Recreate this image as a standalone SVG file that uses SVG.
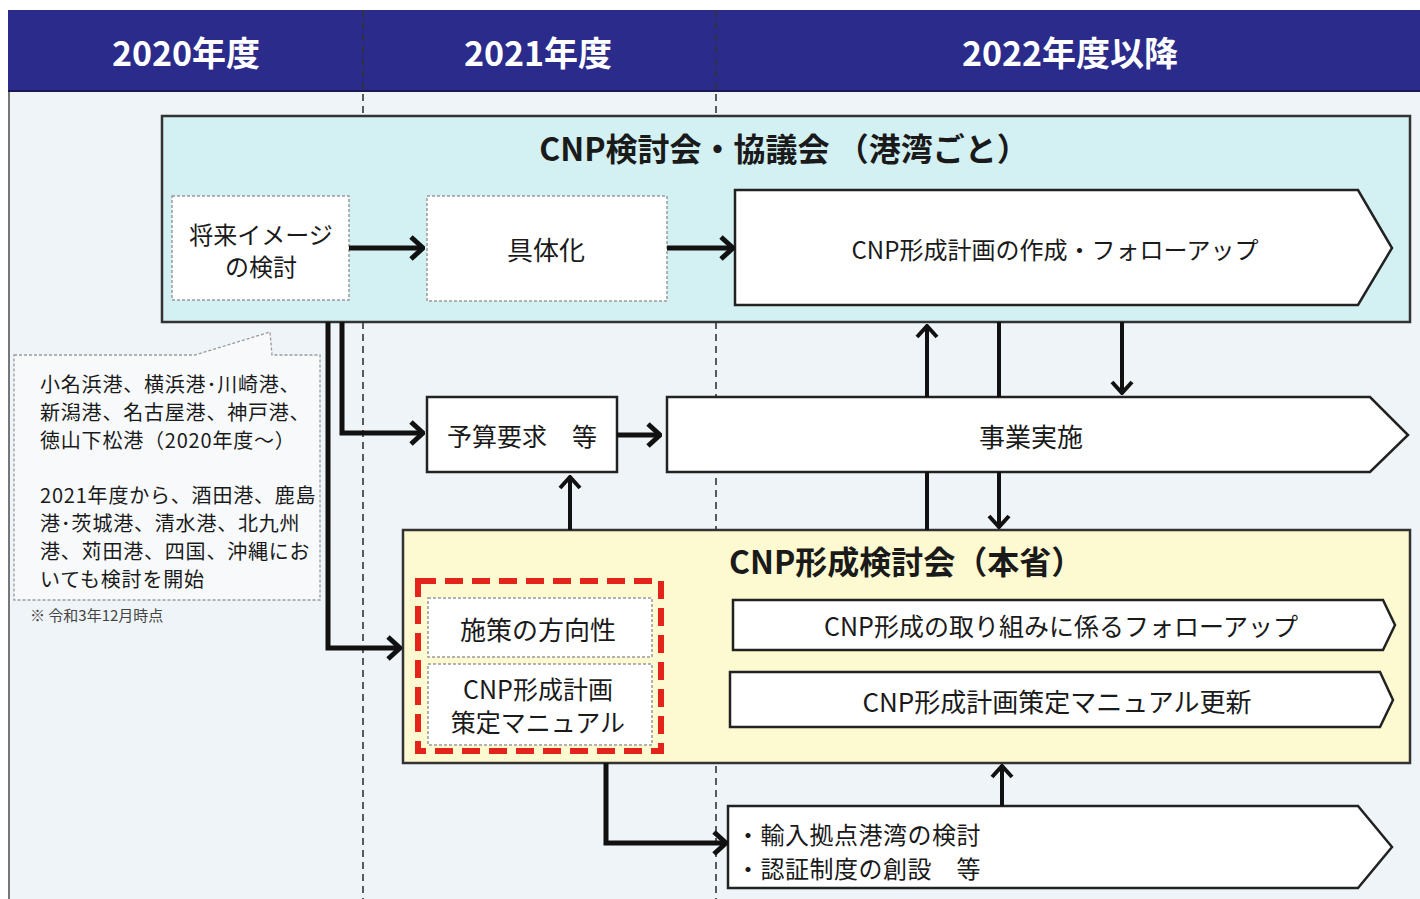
<svg xmlns="http://www.w3.org/2000/svg" width="1420" height="899" viewBox="0 0 1420 899">
<defs>
<style>
text{font-family:"Noto Sans CJK JP","Liberation Sans",sans-serif;fill:#1a1a1a;text-anchor:middle;dominant-baseline:central}
.hd{fill:#ffffff;font-weight:bold;font-size:34px}
.ttl{font-weight:bold;font-size:32px}
.t{font-size:25px}
.sm{font-size:20px;text-anchor:start;letter-spacing:0.8px}
.note{font-size:15px;text-anchor:start;fill:#444}
.dot{fill:#ffffff;stroke:#9a9a9a;stroke-width:1.5;stroke-dasharray:3 2}
.solid{fill:#ffffff;stroke:#222;stroke-width:2.5}
.div{stroke:#333;stroke-width:1.6;stroke-dasharray:7 5;fill:none}
.con{fill:none;stroke:#111;stroke-width:5}
.con2{fill:none;stroke:#111;stroke-width:4}
</style>
<marker id="ah" viewBox="-16 -14 18 28" markerWidth="18" markerHeight="28" refX="0" refY="0" orient="auto" markerUnits="userSpaceOnUse">
<path d="M-12,-11 L0,0 L-12,11" fill="none" stroke="#111" stroke-width="5"/>
</marker>
<marker id="ah2" viewBox="-16 -14 18 28" markerWidth="18" markerHeight="28" refX="0" refY="0" orient="auto" markerUnits="userSpaceOnUse">
<path d="M-11,-10 L0,0 L-11,10" fill="none" stroke="#111" stroke-width="4"/>
</marker>
</defs>
<rect x="0" y="0" width="1420" height="899" fill="#ffffff"/>
<rect x="9" y="92" width="1411" height="807" fill="#eef4f7"/>
<line x1="9" y1="92" x2="9" y2="899" stroke="#777" stroke-width="2"/>
<g id="header">
<rect x="8" y="10" width="1412" height="82" fill="#2b2b8c"/>
<line x1="8" y1="91" x2="1420" y2="91" stroke="#1a1a50" stroke-width="2"/>
<text class="hd" x="186" y="51">2020年度</text>
<text class="hd" x="538" y="51">2021年度</text>
<text class="hd" x="1070" y="51">2022年度以降</text>
</g>
<g id="dividers">
<line class="div" x1="363" y1="10" x2="363" y2="899"/>
<line class="div" x1="716" y1="10" x2="716" y2="899"/>
</g>
<g id="top-group">
<rect x="162" y="116" width="1248" height="206" fill="#d3f0f3" stroke="#333" stroke-width="2.5"/>
<text class="ttl" x="784" y="147">CNP検討会・協議会 （港湾ごと）</text>
</g>
<g id="n-future">
<rect class="dot" x="172" y="196" width="177" height="104"/>
<text class="t" x="261" y="233" style="font-size:24px">将来イメージ</text>
<text class="t" x="261" y="265" style="font-size:24px">の検討</text>
</g>
<g id="n-concrete">
<rect class="dot" x="427" y="196" width="240" height="105"/>
<text class="t" x="546" y="248" style="font-size:26px">具体化</text>
</g>
<g id="n-plan">
<path class="solid" d="M735,190 H1358 L1392,248 L1358,305 H735 Z"/>
<text class="t" x="1055" y="248" style="font-size:24px">CNP形成計画の作成・フォローアップ</text>
</g>
<g id="n-callout">
<path d="M14,355 H195 L270,332 L272,355 H320 V600 H14 Z" fill="#f7f9fa" stroke="#9a9a9a" stroke-width="1.3" stroke-dasharray="3 2"/>
<text class="sm" x="40" y="383">小名浜港、横浜港･川崎港、</text>
<text class="sm" x="40" y="411">新潟港、名古屋港、神戸港、</text>
<text class="sm" x="40" y="439">徳山下松港（2020年度～）</text>
<text class="sm" x="40" y="494">2021年度から、酒田港、鹿島</text>
<text class="sm" x="40" y="522">港･茨城港、清水港、北九州</text>
<text class="sm" x="40" y="550">港、苅田港、四国、沖縄にお</text>
<text class="sm" x="40" y="578">いても検討を開始</text>
<text class="note" x="30" y="614">※ 令和3年12月時点</text>
</g>
<g id="n-budget">
<rect class="solid" x="427" y="397" width="190" height="75"/>
<text class="t" x="522" y="435">予算要求　等</text>
</g>
<g id="n-project">
<path class="solid" d="M667,397 H1370 L1408,435 L1370,472 H667 Z"/>
<text class="t" x="1031" y="435" style="font-size:26px">事業実施</text>
</g>
<g id="yellow-group">
<rect x="403" y="530" width="1007" height="233" fill="#fdf9d0" stroke="#333" stroke-width="2.5"/>
<text class="ttl" x="729" y="560" style="text-anchor:start">CNP形成検討会（本省）</text>
</g>
<g id="n-policy">
<rect class="dot" x="428" y="598" width="224" height="59" stroke="#c8d8a0"/>
<text class="t" x="538" y="628" style="font-size:26px">施策の方向性</text>
</g>
<g id="n-manual">
<rect class="dot" x="428" y="664" width="224" height="81"/>
<text class="t" x="538" y="688">CNP形成計画</text>
<text class="t" x="538" y="721">策定マニュアル</text>
</g>
<g id="red-frame">
<rect x="418" y="581" width="243" height="170" fill="none" stroke="#e4241b" stroke-width="6" stroke-dasharray="18 9"/>
</g>
<g id="n-followup">
<path class="solid" d="M733,600 H1383 L1395,625 L1383,650 H733 Z"/>
<text class="t" x="1061" y="625">CNP形成の取り組みに係るフォローアップ</text>
</g>
<g id="n-manual-update">
<path class="solid" d="M730,672 H1380 L1393,700 L1380,727 H730 Z"/>
<text class="t" x="1057" y="700" style="font-size:26px">CNP形成計画策定マニュアル更新</text>
</g>
<g id="n-import">
<path class="solid" d="M728,806 H1358 L1392,847 L1358,888 H728 Z"/>
<text class="t" x="736" y="833" style="text-anchor:start;font-size:24px;letter-spacing:0.5px">・輸入拠点港湾の検討</text>
<text class="t" x="736" y="867" style="text-anchor:start;font-size:24px;letter-spacing:0.5px">・認証制度の創設　等</text>
</g>
<g id="connectors">
<path class="con" d="M349,248 H423" marker-end="url(#ah)"/>
<path class="con" d="M667,248 H733" marker-end="url(#ah)"/>
<path class="con" d="M342,322 V433 H423" marker-end="url(#ah)"/>
<path class="con" d="M328,322 V648 H400" marker-end="url(#ah)"/>
<path class="con" d="M617,435 H660" marker-end="url(#ah)"/>
<path class="con2" d="M570,530 V477" marker-end="url(#ah2)"/>
<path class="con2" d="M927,397 V326" marker-end="url(#ah2)"/>
<path class="con2" d="M999,322 V397"/>
<path class="con2" d="M1122,322 V393" marker-end="url(#ah2)"/>
<path class="con2" d="M927,472 V530"/>
<path class="con2" d="M999,472 V527" marker-end="url(#ah2)"/>
<path class="con" d="M606,763 V843 H726" marker-end="url(#ah)"/>
<path class="con2" d="M1002,806 V766" marker-end="url(#ah2)"/>
</g>
</svg>
